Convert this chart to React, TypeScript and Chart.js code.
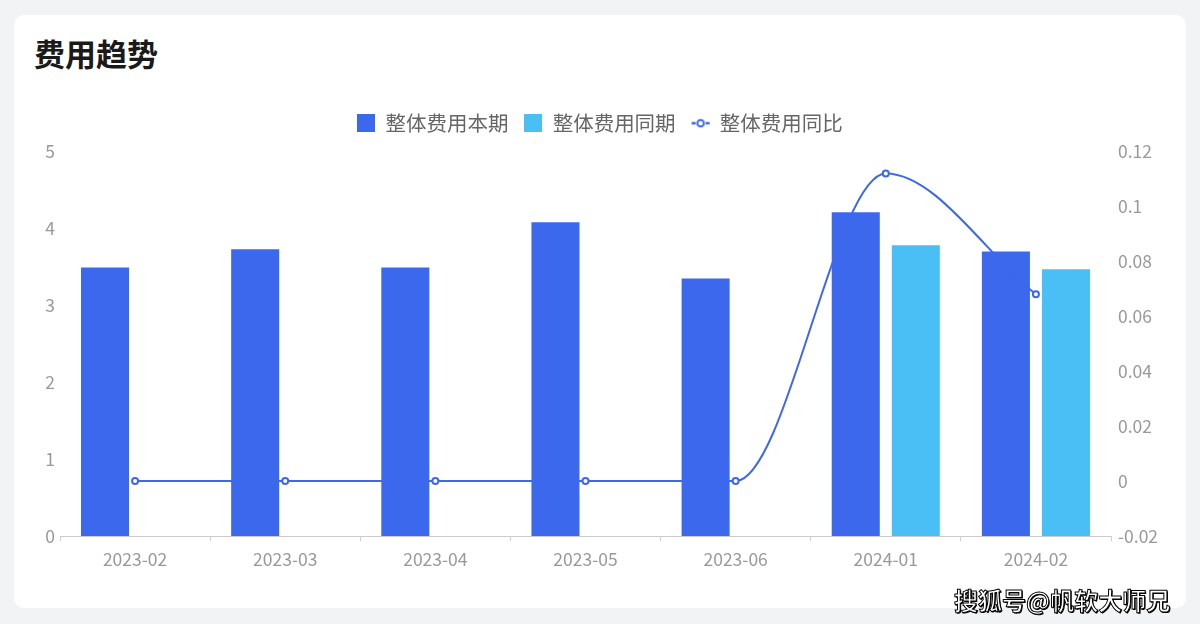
import React, { useEffect, useRef } from "react";
import { Chart, registerables } from "chart.js";

Chart.register(...registerables);

const categories = ["2023-02", "2023-03", "2023-04", "2023-05", "2023-06", "2024-01", "2024-02"];
const currentPeriod = [3.49, 3.73, 3.49, 4.08, 3.35, 4.21, 3.7];
const priorPeriod = [null, null, null, null, null, 3.78, 3.47];
const yoyRatio = [0, 0, 0, 0, 0, 0.112, 0.068];
const leftTicks = [0, 1, 2, 3, 4, 5];
const rightTicks = [-0.02, 0, 0.02, 0.04, 0.06, 0.08, 0.1, 0.12];
const seriesNames = ["整体费用本期", "整体费用同期", "整体费用同比"];

const DARK = "#3c68ee";
const LIGHT = "#4abff6";
const LINE = "#3d67ec";
const FONT = "'Noto Sans CJK SC', 'Noto Sans', sans-serif";

function makeBox(color: string) {
  const c = document.createElement("canvas");
  c.width = 18;
  c.height = 18;
  const ctx = c.getContext("2d")!;
  ctx.fillStyle = color;
  ctx.fillRect(0, 0, 18, 18);
  return c;
}

function makeLineIcon(color: string) {
  const c = document.createElement("canvas");
  c.width = 20;
  c.height = 18;
  const ctx = c.getContext("2d")!;
  ctx.strokeStyle = color;
  ctx.lineWidth = 2.5;
  ctx.beginPath();
  ctx.moveTo(1, 9);
  ctx.lineTo(5, 9);
  ctx.moveTo(15, 9);
  ctx.lineTo(19, 9);
  ctx.stroke();
  ctx.beginPath();
  ctx.arc(10, 9, 3.3, 0, Math.PI * 2);
  ctx.fillStyle = "#fff";
  ctx.fill();
  ctx.lineWidth = 2;
  ctx.stroke();
  return c;
}

function fmt(v: number) {
  return String(parseFloat(Number(v).toFixed(4)));
}

const legendGap = {
  id: "legendGap",
  beforeInit(chart: any) {
    const legend = chart.legend;
    if (!legend) return;
    const orig = legend.fit;
    legend.fit = function () {
      orig.call(this);
      this.height += 8;
    };
  },
};

export default function App() {
  const ref = useRef<HTMLCanvasElement | null>(null);

  useEffect(() => {
    if (!ref.current) return;
    const icons = [makeBox(DARK), makeBox(LIGHT), makeLineIcon(LINE)];
    const chart = new Chart(ref.current, {
      data: {
        labels: categories,
        datasets: [
          {
            type: "line",
            label: seriesNames[2],
            data: yoyRatio,
            yAxisID: "y1",
            borderColor: LINE,
            borderWidth: 2,
            cubicInterpolationMode: "monotone",
            pointRadius: 3,
            pointBorderWidth: 2,
            pointBackgroundColor: "#fff",
            pointBorderColor: LINE,
            order: 0,
          },
          {
            type: "bar",
            label: seriesNames[0],
            data: currentPeriod,
            yAxisID: "y",
            backgroundColor: DARK,
            barPercentage: 0.8,
            categoryPercentage: 0.8,
            order: 1,
          },
          {
            type: "bar",
            label: seriesNames[1],
            data: priorPeriod as any,
            yAxisID: "y",
            backgroundColor: LIGHT,
            barPercentage: 0.8,
            categoryPercentage: 0.8,
            order: 1,
          },
        ],
      },
      options: {
        animation: false,
        responsive: false,
        maintainAspectRatio: false,
        layout: { padding: { top: 12, left: 0, right: 0, bottom: 0 } },
        plugins: {
          tooltip: { enabled: false },
          legend: {
            position: "top",
            labels: {
              usePointStyle: true,
              boxWidth: 18,
              boxHeight: 18,
              padding: 16,
              color: "#666",
              font: { family: FONT, size: 20.5 },
              sort: (a: any, b: any) => {
                const order = [1, 2, 0];
                return order.indexOf(a.datasetIndex) - order.indexOf(b.datasetIndex);
              },
              generateLabels: (ch: any) =>
                ch.data.datasets.map((ds: any, i: number) => ({
                  text: ds.label,
                  datasetIndex: i,
                  fontColor: "#666",
                  pointStyle: i === 0 ? icons[2] : i === 1 ? icons[0] : icons[1],
                  fillStyle: ds.backgroundColor,
                  strokeStyle: ds.borderColor,
                  lineWidth: 0,
                  hidden: false,
                })),
            },
          },
        },
        scales: {
          x: {
            grid: {
              drawOnChartArea: false,
              drawTicks: true,
              tickLength: 5,
              color: "#d0d0d0",
            },
            border: { color: "#cccccc", width: 1 },
            ticks: {
              color: "#999",
              padding: 8,
              font: { family: FONT, size: 17.5 },
            },
            afterFit: (s: any) => {
              s.height = 64;
            },
          },
          y: {
            position: "left",
            min: leftTicks[0],
            max: leftTicks[leftTicks.length - 1],
            afterBuildTicks: (s: any) => {
              s.ticks = leftTicks.map((v) => ({ value: v }));
            },
            grid: { display: false, drawTicks: false },
            border: { display: false },
            ticks: {
              color: "#999",
              padding: 5,
              font: { family: FONT, size: 17.5 },
              callback: (v: any) => fmt(v),
            },
            afterFit: (s: any) => {
              s.width = 46;
            },
          },
          y1: {
            position: "right",
            min: rightTicks[0],
            max: rightTicks[rightTicks.length - 1],
            afterBuildTicks: (s: any) => {
              s.ticks = rightTicks.map((v) => ({ value: v }));
            },
            grid: { display: false, drawTicks: false },
            border: { display: false },
            ticks: {
              color: "#999",
              padding: 7,
              font: { family: FONT, size: 17.5 },
              callback: (v: any) => fmt(v),
            },
            afterFit: (s: any) => {
              s.width = 75;
            },
          },
        },
      },
      plugins: [legendGap],
    });
    return () => chart.destroy();
  }, []);

  return (
    <div
      style={{
        position: "fixed",
        left: 0,
        top: 0,
        width: 1200,
        height: 624,
        background: "#f2f3f5",
        fontFamily: FONT,
      }}
    >
      <div
        style={{
          position: "absolute",
          left: 14,
          top: 15,
          width: 1172,
          height: 593,
          background: "#fff",
          borderRadius: 10,
        }}
      >
        <div
          style={{
            position: "absolute",
            left: 20,
            top: 17,
            fontSize: 31,
            fontWeight: 700,
            color: "#1a1a1a",
            lineHeight: "42px",
          }}
        >
          费用趋势
        </div>
        <canvas
          ref={ref}
          width={1172}
          height={515}
          style={{ position: "absolute", left: 0, top: 70, width: 1172, height: 515 }}
        />
      </div>
      <div
        style={{
          position: "absolute",
          left: 954,
          top: 583,
          fontSize: 24,
          fontWeight: 700,
          color: "#fff",
          lineHeight: "34px",
          WebkitTextStroke: "1px #000",
          textShadow: "1px 1px 0 #000",
        }}
      >
        搜狐号@帆软大师兄
      </div>
    </div>
  );
}
